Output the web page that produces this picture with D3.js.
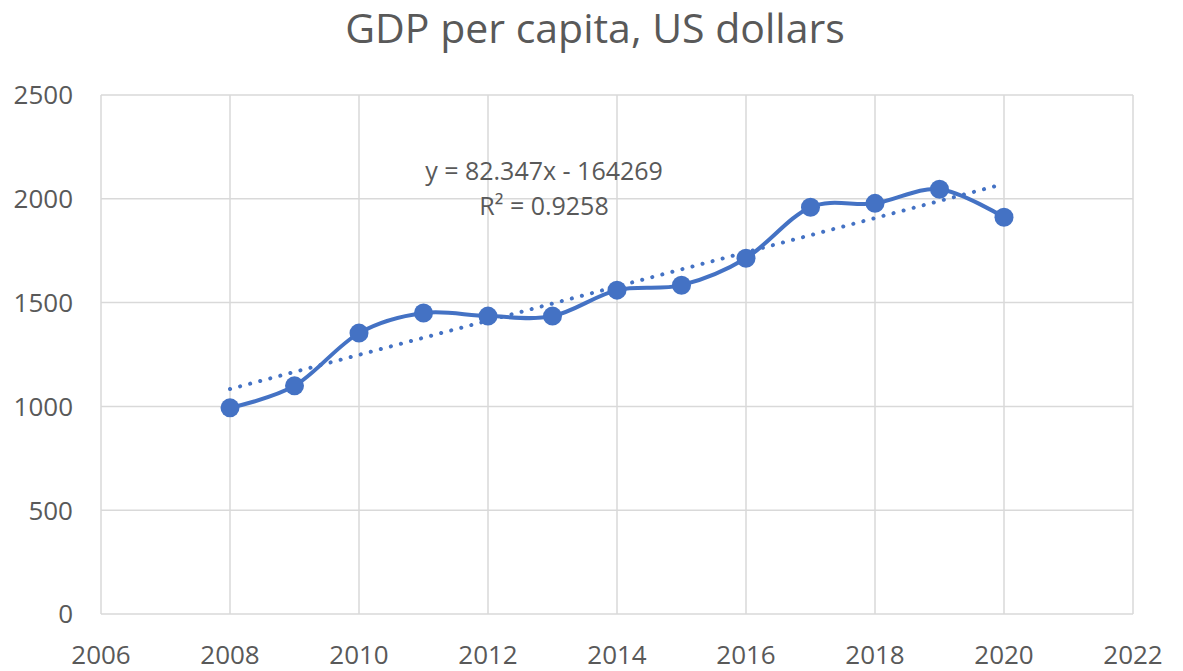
<!DOCTYPE html>
<html>
<head>
<meta charset="utf-8">
<script src="https://cdn.jsdelivr.net/npm/d3@7"></script>
<style>
  body { margin: 0; background: #fff; }
  svg { display: block; font-family: "Open Sans", sans-serif; }
</style>
</head>
<body>
<svg id="chart" width="1183" height="671"></svg>
<script>
// values
const years = [2008, 2009, 2010, 2011, 2012, 2013, 2014, 2015, 2016, 2017, 2018, 2019, 2020];
const gdp = [993, 1099, 1353, 1450, 1435, 1435, 1560, 1584, 1714, 1959, 1978, 2046, 1911];
const xTicks = [2006, 2008, 2010, 2012, 2014, 2016, 2018, 2020, 2022];
const yTicks = [0, 500, 1000, 1500, 2000, 2500];
const trendSlope = 82.347;
const trendIntercept = -164269;
const trendLabel = ["y = 82.347x - 164269", "R² = 0.9258"];

const blue = '#4472C4';
const grid = '#d9d9d9';
const textColor = '#595959';

const svg = d3.select('#chart');
const margin = { left: 101, right: 50, top: 95, bottom: 57 };
const width = 1183, height = 671;

const x = d3.scaleLinear().domain([2006, 2022]).range([margin.left, width - margin.right]);
const y = d3.scaleLinear().domain([0, 2500]).range([height - margin.bottom, margin.top]);

// title
svg.append('text')
  .attr('x', 595).attr('y', 43)
  .attr('text-anchor', 'middle')
  .attr('font-size', 41)
  .attr('fill', textColor)
  .text('GDP per capita, US dollars');

// gridlines
svg.append('g').selectAll('line.h')
  .data(yTicks)
  .enter().append('line')
  .attr('x1', x(2006)).attr('x2', x(2022))
  .attr('y1', d => y(d)).attr('y2', d => y(d))
  .attr('stroke', grid).attr('stroke-width', 1.5);

svg.append('g').selectAll('line.v')
  .data(xTicks)
  .enter().append('line')
  .attr('x1', d => x(d)).attr('x2', d => x(d))
  .attr('y1', y(0)).attr('y2', y(2500))
  .attr('stroke', grid).attr('stroke-width', 1.5);

// tick labels
svg.append('g').selectAll('text')
  .data(yTicks)
  .enter().append('text')
  .attr('x', 73).attr('y', d => y(d))
  .attr('dy', '0.36em')
  .attr('text-anchor', 'end')
  .attr('font-size', 26)
  .attr('fill', textColor)
  .text(d => d);

svg.append('g').selectAll('text')
  .data(xTicks)
  .enter().append('text')
  .attr('x', d => x(d)).attr('y', 664)
  .attr('text-anchor', 'middle')
  .attr('font-size', 26)
  .attr('fill', textColor)
  .text(d => d);

// linear trendline
const trendYears = [years[0], years[years.length - 1]];
svg.append('line')
  .attr('x1', x(trendYears[0])).attr('y1', y(trendSlope * trendYears[0] + trendIntercept))
  .attr('x2', x(trendYears[1])).attr('y2', y(trendSlope * trendYears[1] + trendIntercept))
  .attr('stroke', blue)
  .attr('stroke-width', 4)
  .attr('stroke-linecap', 'round')
  .attr('stroke-dasharray', '0.1 10.3');

// smoothed series line
const data = years.map((yr, i) => ({ year: yr, value: gdp[i] }));
const line = d3.line()
  .x(d => x(d.year))
  .y(d => y(d.value))
  .curve(d3.curveCatmullRom.alpha(0));

svg.append('path')
  .datum(data)
  .attr('d', line)
  .attr('fill', 'none')
  .attr('stroke', blue)
  .attr('stroke-width', 4);

svg.append('g').selectAll('circle')
  .data(data)
  .enter().append('circle')
  .attr('cx', d => x(d.year))
  .attr('cy', d => y(d.value))
  .attr('r', 9.5)
  .attr('fill', blue);

// trendline label
svg.append('g').selectAll('text')
  .data(trendLabel)
  .enter().append('text')
  .attr('x', 544)
  .attr('y', (d, i) => 180 + i * 34.5)
  .attr('text-anchor', 'middle')
  .attr('font-size', 25)
  .attr('fill', textColor)
  .text(d => d);
</script>
</body>
</html>
